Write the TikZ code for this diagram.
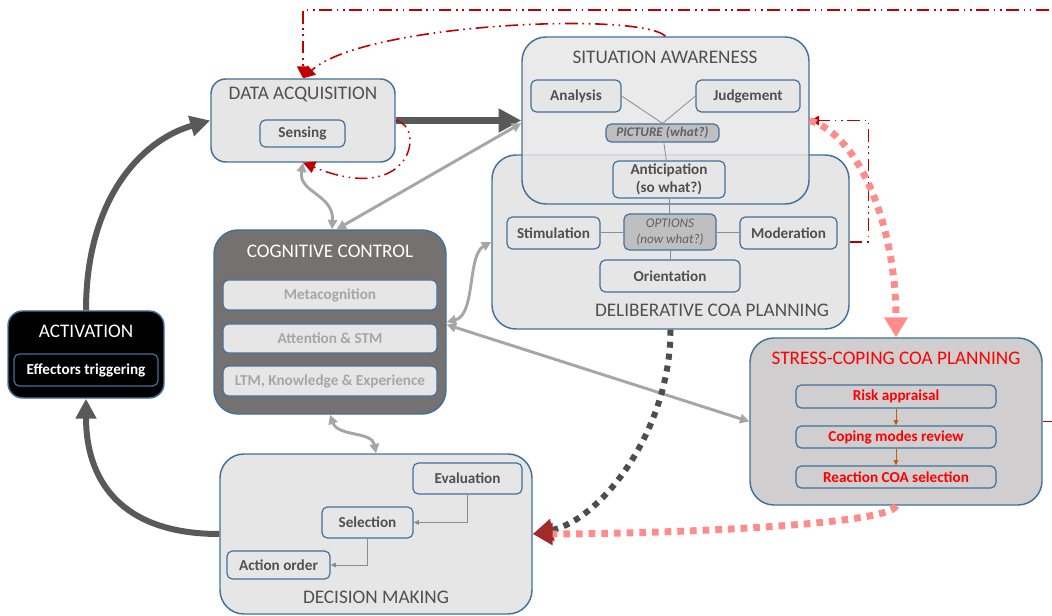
\documentclass[tikz,border=0pt]{standalone}
\usepackage{fontspec}
\setmainfont{Carlito}
\usetikzlibrary{arrows.meta}
\definecolor{boxblue}{HTML}{41719C}
\definecolor{boxfill}{HTML}{E7E6E6}
\definecolor{txtgray}{HTML}{505050}
\definecolor{keygray}{HTML}{606060}
\definecolor{optfill}{HTML}{BFBFBF}
\definecolor{ccfill}{HTML}{767171}
\definecolor{ccgray}{HTML}{A6A6A6}
\definecolor{scpfill}{HTML}{D0CECE}
\definecolor{arrowdark}{HTML}{595959}
\definecolor{arrowgray}{HTML}{A6A6A6}
\definecolor{linkgray}{HTML}{8C8C8C}
\definecolor{loopred}{HTML}{C00000}
\definecolor{stresspink}{HTML}{FF8B8B}
\definecolor{dotdark}{HTML}{4D4D4D}
\definecolor{tipred}{HTML}{A12B2B}
\definecolor{orangeline}{HTML}{C55A11}
\tikzset{
    wh/.style 2 args={minimum width=#1*0.75pt, minimum height=#2*0.75pt},
    bigbox/.style={draw=boxblue, fill=boxfill, line width=1.1pt, rounded corners=18pt, inner sep=0pt},
    subbox/.style={draw=boxblue, fill=boxfill, line width=0.9pt, rounded corners=4pt, inner sep=0pt,
        text=txtgray, align=center, font=\bfseries\fontsize{11.4}{13.5}\selectfont},
    keybox/.style={subbox, fill=optfill, text=keygray, font=\bfseries\itshape\fontsize{9.9}{12}\selectfont},
    boxtitle/.style={text=txtgray, inner sep=0pt, font=\fontsize{14.4}{17}\selectfont},
    innerlink/.style={draw=linkgray, line width=0.6pt},
    darkflow/.style={draw=arrowdark},
    graylink/.style={draw=arrowgray, line width=2.2pt, <->, >={Triangle[length=7pt,width=7pt]}},
    redflow/.style={draw=loopred, line width=1.4pt,
        dash pattern=on 9.5pt off 3.5pt on 1.2pt off 3.5pt on 1.2pt off 3.5pt,
        -{Triangle[length=9pt,width=9pt]}},
    pinkflow/.style={draw=stresspink, line width=5.2pt, dash pattern=on 5pt off 4.5pt},
    darkdots/.style={draw=dotdark, line width=4.5pt, dash pattern=on 4.5pt off 4.5pt}
}
\begin{document}
\begin{tikzpicture}[x=0.75pt,y=-0.75pt]
        \useasboundingbox (0,0) rectangle (1052,616);
        \clip (0,0) rectangle (1052,616);

        \node[bigbox, wh={357}{174}] (dcp) at (670.5,242) {};
        \node[bigbox, wh={287}{167}, fill opacity=0.85] (sa) at (665.5,120.5) {};
        \node[bigbox, wh={184}{83}, rounded corners=11pt] (da) at (303,120.5) {};
        \node[bigbox, wh={232}{184}, fill=ccfill] (cc) at (330,322) {};
        \node[bigbox, wh={156}{87}, fill=black, rounded corners=11pt] (act) at (86,354.5) {};
        \node[bigbox, wh={292}{167}, fill=scpfill] (scp) at (896,421.5) {};
        \node[bigbox, wh={312}{160}] (dm) at (376,534) {};

        \node[boxtitle] (daTitle) at (303,95) {DATA ACQUISITION};
        \node[boxtitle] (saTitle) at (665,57) {SITUATION AWARENESS};
        \node[boxtitle] (dcpTitle) at (712,310) {DELIBERATIVE COA PLANNING};
        \node[boxtitle, text=white] (ccTitle) at (330,251) {COGNITIVE CONTROL};
        \node[boxtitle, text=white] (actTitle) at (86,331) {ACTIVATION};
        \node[boxtitle, text=red] (scpTitle) at (896,358) {STRESS-COPING COA PLANNING};
        \node[boxtitle] (dmTitle) at (376,597) {DECISION MAKING};

        \node[subbox, wh={85}{27}] (daSens) at (302.5,133.5) {Sensing};
        \node[subbox, wh={90}{32}] (saAna) at (576,96) {Analysis};
        \node[subbox, wh={104}{32}] (saJud) at (748,96) {Judgement};
        \node[keybox, wh={113}{18}] (saPic) at (662.5,133) {PICTURE (what?)};
        \node[subbox, wh={112}{37}] (saAnt) at (669,179.5) {Anticipation\\(so what?)};
        \node[subbox, wh={93}{32}] (dcpSti) at (553.5,233) {Stimulation};
        \node[keybox, wh={92}{36}, font=\itshape\fontsize{9.9}{12}\selectfont] (dcpOpt) at (670,232) {OPTIONS\\(now what?)};
        \node[subbox, wh={97}{32}] (dcpMod) at (788.5,233) {Moderation};
        \node[subbox, wh={140}{32}] (dcpOri) at (670,276) {Orientation};

        \node[subbox, wh={214}{30}, text=ccgray] (ccMeta) at (330,295) {Metacognition};
        \node[subbox, wh={214}{29}, text=ccgray] (ccAtt) at (330,338.5) {Attention \& STM};
        \node[subbox, wh={214}{30}, text=ccgray] (ccLtm) at (330,381) {LTM, Knowledge \& Experience};

        \node[subbox, wh={144}{32}, fill=black, text=white] (actEff) at (86,370) {Effectors triggering};

        \node[subbox, wh={200}{23}, fill=scpfill, text=red] (scpRisk) at (896,396.5) {Risk appraisal};
        \node[subbox, wh={200}{22}, fill=scpfill, text=red] (scpCop) at (896,437) {Coping modes review};
        \node[subbox, wh={200}{22}, fill=scpfill, text=red] (scpRea) at (896,477) {Reaction COA selection};

        \node[subbox, wh={109}{31}] (dmEva) at (467.5,478.5) {Evaluation};
        \node[subbox, wh={91}{31}] (dmSel) at (367.5,522.5) {Selection};
        \node[subbox, wh={103}{28}] (dmAct) at (278.5,565) {Action order};

        \draw[innerlink] (saAna.east) -- (saPic.north);
        \draw[innerlink] (saJud.west) -- (saPic.north);
        \draw[innerlink] (saPic) -- (saAnt);
        \draw[innerlink] (saAnt) -- (dcpOpt);
        \draw[innerlink] (dcpSti) -- (dcpOpt);
        \draw[innerlink] (dcpOpt) -- (dcpMod);
        \draw[innerlink] (dcpOpt) -- (dcpOri);
        \draw[innerlink, -{Triangle[length=4pt,width=3.5pt]}] (dmEva.south) |- (dmSel.east);
        \draw[innerlink, -{Triangle[length=4pt,width=3.5pt]}] (dmSel.south) |- (dmAct.east);
        \draw[orangeline, line width=0.6pt, -{Triangle[length=4pt,width=3.5pt]}] (scpRisk) -- (scpCop);
        \draw[orangeline, line width=0.6pt, -{Triangle[length=4pt,width=3.5pt]}] (scpCop) -- (scpRea);

        \draw[darkflow, line width=5.6pt, -{Triangle[length=17pt,width=17pt]}] (da.east) -- (sa.west);
        \draw[darkflow, line width=4.5pt, -{Triangle[length=15pt,width=15pt]}] (act.north) .. controls +(0,-110) and +(-70,20) .. (da.west);
        \draw[darkflow, line width=4.5pt, -{Triangle[length=15pt,width=15pt]}] (dm.west) .. controls +(-100,0) and +(0,80) .. (act.south);

        \draw[graylink] (da.south) .. controls +(-5,30) and +(2,-35) .. ([xshift=1.5pt]cc.north);
        \draw[graylink] ([yshift=-2pt]sa.west) -- ([xshift=5pt]cc.north);
        \draw[graylink] (cc.east) .. controls +(29,-7) and +(-24,13) .. (dcp.west);
        \draw[graylink] ([yshift=-2pt]cc.east) -- (scp.west);
        \draw[graylink] (cc.south) .. controls +(8,22) and +(-4,-22) .. (dm.north);

        \coordinate (topR) at (1064,10);
        \draw[redflow] (scp.east) -| (topR) -| (da.north);
        \draw[redflow, line width=1.2pt] (sa.north) .. controls +(-25,-25) and +(60,-55) .. (da.north);
        \draw[redflow, line width=1.1pt] (da.east) .. controls +(30,5) and +(110,45) .. (da.south);
        \draw[redflow, line width=1pt, -{Triangle[length=7pt,width=7pt]}] (dcp.east) -- ++(19,0) |- (sa.east);

        \draw[pinkflow, -{Triangle[length=15pt,width=17pt,color=stresspink]}] (sa.east) .. controls +(51,15) and +(0,-108) .. (scp.north);
        \draw[darkdots, -{Triangle[length=15pt,width=16pt,color=tipred]}] (dcp.south) .. controls +(0,101) and +(68,-14) .. (dm.east);
        \draw[pinkflow, -{Triangle[length=15pt,width=16pt,color=tipred]}] (scp.south) .. controls +(-6,20) and +(118,0) .. (dm.east);
\end{tikzpicture}
\end{document}
